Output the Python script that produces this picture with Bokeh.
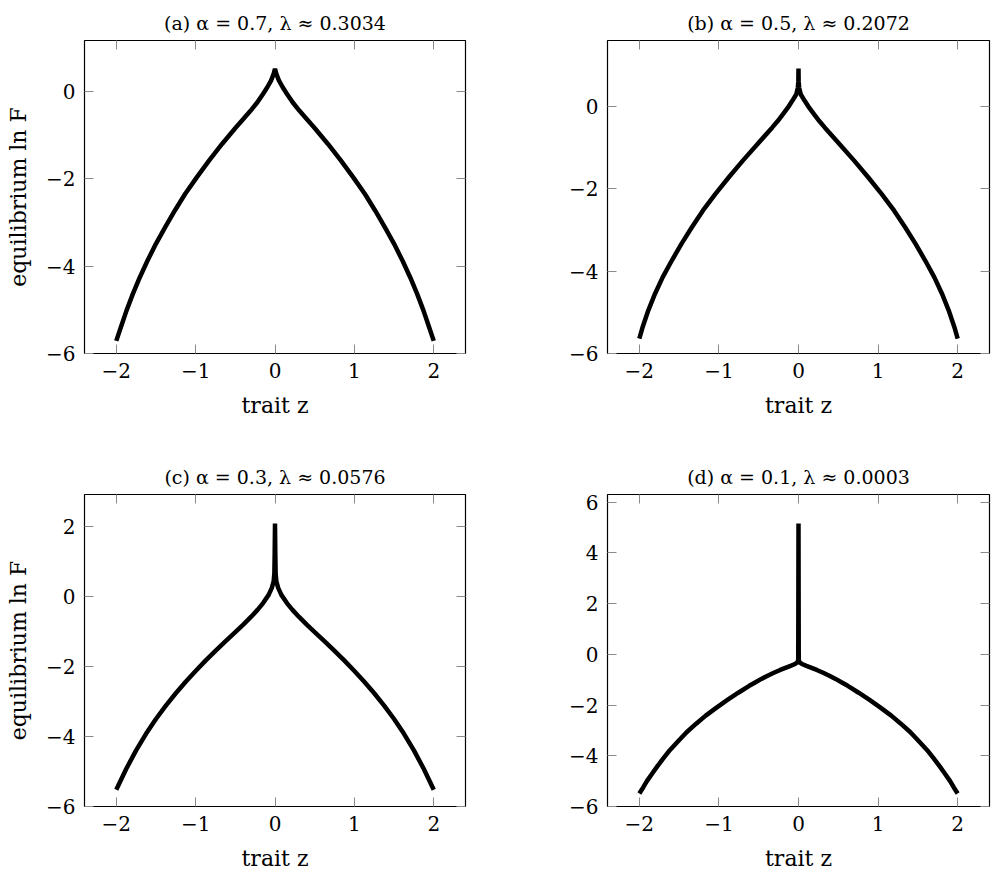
from bokeh.plotting import figure
from bokeh.models import Range1d, FixedTicker, LinearAxis, CustomJSTickFormatter
from bokeh.layouts import column, row
from bokeh.embed import file_html
from bokeh.resources import INLINE

# ---- data ----
titles = ["(a) α = 0.7, λ ≈ 0.3034", "(b) α = 0.5, λ ≈ 0.2072",
          "(c) α = 0.3, λ ≈ 0.0576", "(d) α = 0.1, λ ≈ 0.0003"]

# (a) alpha = 0.7
z_a = [-2.000, -1.943, -1.872, -1.792, -1.704, -1.607, -1.502, -1.385, -1.263, -1.133,
       -0.986, -0.831, -0.667, -0.491, -0.399, -0.306, -0.222, -0.151, -0.097, -0.050, -0.017, 0.000,
       0.017, 0.050, 0.097, 0.151, 0.222, 0.306, 0.399, 0.491, 0.667, 0.831,
       0.986, 1.133, 1.263, 1.385, 1.502, 1.607, 1.704, 1.792, 1.872, 1.943, 2.000]
lnF_a = [-5.711, -5.405, -5.023, -4.641, -4.258, -3.876, -3.494, -3.112, -2.729, -2.347,
         -1.965, -1.583, -1.200, -0.818, -0.627, -0.436, -0.245, -0.054, 0.099, 0.252, 0.405, 0.520,
         0.405, 0.252, 0.099, -0.054, -0.245, -0.436, -0.627, -0.818, -1.200, -1.583,
         -1.965, -2.347, -2.729, -3.112, -3.494, -3.876, -4.258, -4.641, -5.023, -5.405, -5.711]

# (b) alpha = 0.5
z_b = [-2.000, -1.958, -1.887, -1.803, -1.706, -1.592, -1.471, -1.340, -1.202, -1.046,
       -0.878, -0.702, -0.517, -0.332, -0.261, -0.197, -0.134, -0.080, -0.029, -0.008, -0.002, 0.000,
       0.002, 0.008, 0.029, 0.080, 0.134, 0.197, 0.261, 0.332, 0.517, 0.702,
       0.878, 1.046, 1.202, 1.340, 1.471, 1.592, 1.706, 1.803, 1.887, 1.958, 2.000]
lnF_b = [-5.637, -5.355, -4.952, -4.548, -4.145, -3.742, -3.339, -2.935, -2.532, -2.129,
         -1.726, -1.323, -0.919, -0.516, -0.355, -0.194, -0.032, 0.129, 0.290, 0.452, 0.613, 0.919,
         0.613, 0.452, 0.290, 0.129, -0.032, -0.194, -0.355, -0.516, -0.919, -1.323,
         -1.726, -2.129, -2.532, -2.935, -3.339, -3.742, -4.145, -4.548, -4.952, -5.355, -5.637]

# (c) alpha = 0.3
z_c = [-2.000, -1.875, -1.750, -1.625, -1.500, -1.375, -1.250, -1.125, -1.000, -0.875,
       -0.750, -0.625, -0.500, -0.400, -0.300, -0.220, -0.150, -0.080, -0.040, -0.017,
       -0.008, -0.004, 0.000,
       0.004, 0.008, 0.017, 0.040, 0.080, 0.150, 0.220, 0.300, 0.400, 0.500, 0.625,
       0.750, 0.875, 1.000, 1.125, 1.250, 1.375, 1.500, 1.625, 1.750, 1.875, 2.000]
lnF_c = [-5.520, -4.926, -4.395, -3.920, -3.495, -3.111, -2.758, -2.430, -2.120, -1.826,
         -1.545, -1.273, -1.008, -0.793, -0.568, -0.372, -0.178, 0.057, 0.257, 0.445,
         0.680, 1.250, 2.100,
         1.250, 0.680, 0.445, 0.257, 0.057, -0.178, -0.372, -0.568, -0.793, -1.008, -1.273,
         -1.545, -1.826, -2.120, -2.430, -2.758, -3.111, -3.495, -3.920, -4.395, -4.926, -5.520]

# (d) alpha = 0.1
z_d = [-2.000, -1.950, -1.903, -1.836, -1.770, -1.694, -1.617, -1.510, -1.406, -1.286,
       -1.166, -1.030, -0.893, -0.756, -0.619, -0.545, -0.472, -0.388, -0.303, -0.230,
       -0.156, -0.100, -0.051, -0.012, -0.003, 0.000,
       0.003, 0.012, 0.051, 0.100, 0.156, 0.230, 0.303, 0.388, 0.472, 0.545,
       0.619, 0.756, 0.893, 1.030, 1.166, 1.286, 1.406, 1.510, 1.617, 1.694,
       1.770, 1.836, 1.903, 1.950, 2.000]
lnF_d = [-5.490, -5.240, -4.990, -4.690, -4.400, -4.085, -3.780, -3.420, -3.072, -2.735,
         -2.418, -2.100, -1.800, -1.515, -1.242, -1.110, -0.980, -0.845, -0.719, -0.617,
         -0.523, -0.455, -0.392, -0.320, -0.200, 5.160,
         -0.200, -0.320, -0.392, -0.455, -0.523, -0.617, -0.719, -0.845, -0.980, -1.110,
         -1.242, -1.515, -1.800, -2.100, -2.418, -2.735, -3.072, -3.420, -3.780, -4.085,
         -4.400, -4.690, -4.990, -5.240, -5.490]

y_max = [1.17, 1.6, 2.93, 6.3]
x_ticks = [-2, -1, 0, 1, 2]
y_ticks_a = [-6, -4, -2, 0]
y_ticks_b = [-6, -4, -2, 0]
y_ticks_c = [-6, -4, -2, 0, 2]
y_ticks_d = [-6, -4, -2, 0, 2, 4, 6]
x_label = "trait z"
y_label = "equilibrium ln F"

FONT = "DejaVu Serif"
fmt_code = "return (tick < 0 ? '\u2212' : '') + Math.abs(tick).toString();"


def style_axis(ax, ticks, show_labels=True):
    ax.ticker = FixedTicker(ticks=ticks)
    ax.formatter = CustomJSTickFormatter(code=fmt_code)
    ax.axis_line_color = None
    ax.major_tick_in = 9
    ax.major_tick_out = 0
    ax.minor_tick_in = 0
    ax.minor_tick_out = 0
    ax.major_tick_line_color = "#8a8a8a"
    ax.major_tick_line_width = 1
    ax.major_label_text_font = FONT
    if show_labels:
        ax.major_label_text_color = "black"
        ax.major_label_text_font_size = "20px"
    else:
        ax.major_label_text_color = None
        ax.major_label_text_font_size = "1px"
        ax.major_label_standoff = 0


def make(title, z, f, ymax, yticks, ylab, w, h, bl, br, bt, bb):
    p = figure(width=w, height=h, x_range=Range1d(-2.4, 2.4), y_range=Range1d(-6, ymax),
               output_backend="svg", toolbar_location=None,
               min_border_left=bl, min_border_right=br, min_border_top=bt, min_border_bottom=bb)
    p.line(z, f, line_color="black", line_width=4.5)
    p.xgrid.visible = False
    p.ygrid.visible = False
    p.outline_line_color = "black"
    p.outline_line_width = 1.2
    p.background_fill_color = "white"
    p.border_fill_color = "white"

    p.title.text = title
    p.title.align = "center"
    p.title.text_font = FONT
    p.title.text_font_size = "19px"
    p.title.text_font_style = "normal"
    p.title.text_color = "black"
    p.title.standoff = 14

    xa = p.xaxis[0]
    style_axis(xa, x_ticks)
    xa.major_label_standoff = 9
    xa.axis_label = x_label
    xa.axis_label_text_font = FONT
    xa.axis_label_text_font_size = "22px"
    xa.axis_label_text_font_style = "normal"
    xa.axis_label_text_color = "black"
    xa.axis_label_standoff = 12

    ya = p.yaxis[0]
    style_axis(ya, yticks)
    ya.major_label_standoff = 9
    if ylab:
        ya.axis_label = ylab
        ya.axis_label_text_font = FONT
        ya.axis_label_text_font_size = "22px"
        ya.axis_label_text_font_style = "normal"
        ya.axis_label_text_color = "black"
        ya.axis_label_standoff = 12

    top = LinearAxis()
    style_axis(top, x_ticks, show_labels=False)
    p.add_layout(top, "above")
    right = LinearAxis()
    style_axis(right, yticks, show_labels=False)
    p.add_layout(right, "right")
    return p


pa = make(titles[0], z_a, lnF_a, y_max[0], y_ticks_a, y_label, 505, 453, 84, 40, 40, 100)
pb = make(titles[1], z_b, lnF_b, y_max[1], y_ticks_b, None, 488, 453, 102, 4, 40, 100)
pc = make(titles[2], z_c, lnF_c, y_max[2], y_ticks_c, y_label, 505, 420, 84, 40, 41, 65)
pd = make(titles[3], z_d, lnF_d, y_max[3], y_ticks_d, None, 488, 420, 102, 4, 41, 65)

layout = column(row(pa, pb), row(pc, pd))
open("out.html", "w").write(file_html(layout, INLINE))
